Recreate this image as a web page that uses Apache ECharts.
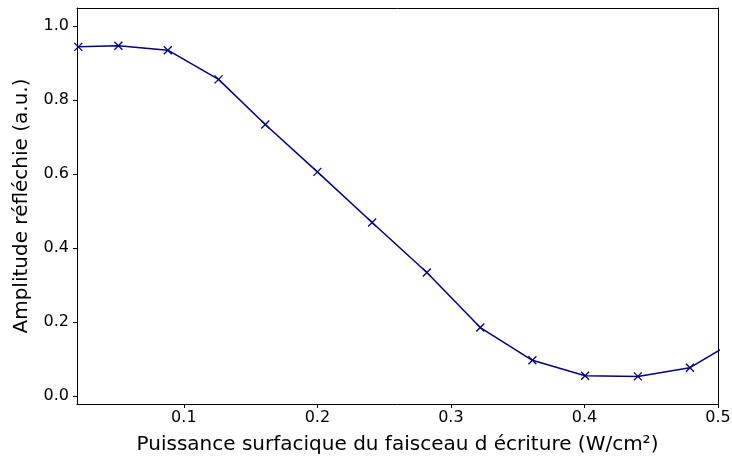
<!DOCTYPE html>
<html>
<head>
<meta charset="utf-8">
<script src="https://cdn.jsdelivr.net/npm/echarts@6/dist/echarts.min.js"></script>
<style>
  html, body { margin: 0; padding: 0; background: #fff; }
  #chart { width: 732px; height: 457px; }
</style>
</head>
<body>
<div id="chart"></div>
<script>
// Surface power density of the writing beam (W/cm²)
const power = [0.021, 0.051, 0.088, 0.126, 0.161, 0.200, 0.241, 0.282, 0.322,
               0.361, 0.4005, 0.440, 0.479, 0.518];
// Reflected amplitude (a.u.)
const amplitude = [0.944, 0.947, 0.935, 0.856, 0.734, 0.606, 0.469, 0.334, 0.185,
                   0.0965, 0.055, 0.053, 0.0765, 0.160];

const xTicks = [0.1, 0.2, 0.3, 0.4, 0.5];
const yTicks = [0.0, 0.2, 0.4, 0.6, 0.8, 1.0];

const xRange = [0.02, 0.5];
const yRange = [-0.0216, 1.049];

const font = 'DejaVu Sans';
const ink = '#000000';

const chart = echarts.init(document.getElementById('chart'), null, { renderer: 'canvas' });

const frameAxis = {
  axisLine: { show: true, onZero: false, lineStyle: { color: ink, width: 1 } },
  splitLine: { show: false }
};

chart.setOption({
  animation: false,
  backgroundColor: '#ffffff',
  grid: { left: 77, right: 14, top: 8, bottom: 53, containLabel: false, outerBoundsMode: 'none' },
  xAxis: [{
    type: 'value',
    min: xRange[0], max: xRange[1],
    ...frameAxis,
    axisTick: { show: true, length: 4, inside: false, customValues: xTicks, lineStyle: { color: ink } },
    axisLabel: {
      show: true, customValues: xTicks, margin: 6,
      fontFamily: font, fontSize: 16, color: ink,
      formatter: v => v.toFixed(1)
    },
    name: 'Puissance surfacique du faisceau d écriture (W/cm²)',
    nameLocation: 'middle', nameGap: 31,
    nameTextStyle: { fontFamily: font, fontSize: 20, color: ink }
  }, {
    type: 'value', position: 'top',
    min: xRange[0], max: xRange[1],
    ...frameAxis,
    axisTick: { show: false }, axisLabel: { show: false }
  }],
  yAxis: [{
    type: 'value',
    min: yRange[0], max: yRange[1],
    ...frameAxis,
    axisTick: { show: true, length: 4, inside: false, customValues: yTicks, lineStyle: { color: ink } },
    axisLabel: {
      show: true, customValues: yTicks, margin: 8,
      fontFamily: font, fontSize: 16, color: ink,
      formatter: v => v.toFixed(1)
    },
    name: 'Amplitude réfléchie (a.u.)',
    nameLocation: 'middle', nameGap: 45,
    nameTextStyle: { fontFamily: font, fontSize: 20, color: ink }
  }, {
    type: 'value', position: 'right',
    min: yRange[0], max: yRange[1],
    ...frameAxis,
    axisTick: { show: false }, axisLabel: { show: false }
  }],
  series: [{
    type: 'line',
    data: power.map((p, i) => [p, amplitude[i]]),
    clip: true,
    symbol: 'path://M0,0L10,10M10,0L0,10',
    symbolSize: 8,
    showAllSymbol: true,
    lineStyle: { color: '#000080', width: 1.5 },
    itemStyle: { color: 'rgba(0,0,0,0)', borderColor: '#000080', borderWidth: 1.3 }
  }]
});
</script>
</body>
</html>
